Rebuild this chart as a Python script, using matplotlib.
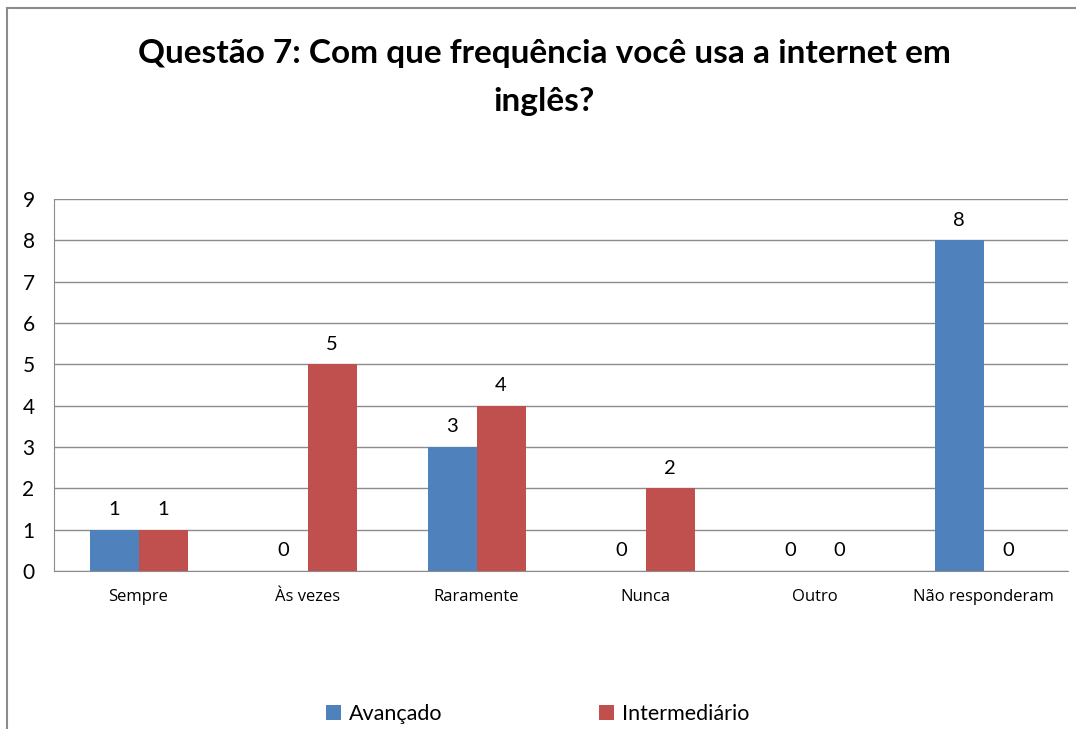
import matplotlib.pyplot as plt
import numpy as np
from matplotlib.lines import Line2D

# Data
categories = ['Sempre', 'Às vezes', 'Raramente', 'Nunca', 'Outro', 'Não responderam']
avancado = [1, 0, 3, 0, 0, 8]
intermediario = [1, 5, 4, 2, 0, 0]
series_names = ['Avançado', 'Intermediário']

blue = '#4F81BD'
red = '#C0504D'
grid_col = '#8C8C8C'

plt.rcParams['font.family'] = ['Lato', 'DejaVu Sans']

fig = plt.figure(figsize=(10.76, 7.29), dpi=100)
ax = fig.add_axes([0.0502, 0.2167, 0.9424, 0.5103])

x = np.arange(len(categories))
w = 0.29
b1 = ax.bar(x - w / 2, avancado, w, color=blue, label=series_names[0], zorder=3)
b2 = ax.bar(x + w / 2, intermediario, w, color=red, label=series_names[1], zorder=3)

for bars in (b1, b2):
    for rect in bars:
        h = rect.get_height()
        ax.text(rect.get_x() + rect.get_width() / 2, h + 0.28, f'{int(h)}',
                ha='center', va='bottom', fontsize=14.5, color='black')

ax.set_xlim(-0.5, len(categories) - 0.5)
ax.set_ylim(0, 9)
ax.set_yticks(range(0, 10))
ax.set_xticks(x)
ax.set_xticklabels(categories, fontsize=12, family=['Open Sans', 'DejaVu Sans'])
ax.tick_params(axis='y', labelsize=15, length=0, pad=14)
ax.tick_params(axis='x', length=0, pad=13)
ax.grid(axis='y', color=grid_col, linewidth=1, zorder=0)
for s in ['top', 'right']:
    ax.spines[s].set_visible(False)
ax.spines['left'].set_color(grid_col)
ax.spines['bottom'].set_color(grid_col)

fig.text(0.506, 0.926, 'Questão 7: Com que frequência você usa a internet em',
         ha='center', va='center', fontsize=24, fontweight='bold')
fig.text(0.506, 0.861, 'inglês?', ha='center', va='center',
         fontsize=24, fontweight='bold')

fig.legend(handles=[b1, b2], labels=series_names, loc='center', ncol=2,
           bbox_to_anchor=(0.4995, 0.02), frameon=False, fontsize=15.5,
           handlelength=0.7, handleheight=0.7, handletextpad=0.35,
           columnspacing=7.3)

# chart border (left and top edges visible)
fig.add_artist(Line2D([7 / 1076, 7 / 1076], [0, 1 - 8 / 729], color='#8C8C8C', lw=1.5))
fig.add_artist(Line2D([7 / 1076, 1], [1 - 8 / 729, 1 - 8 / 729], color='#8C8C8C', lw=1.5))

fig.savefig('out.png', dpi=100)
